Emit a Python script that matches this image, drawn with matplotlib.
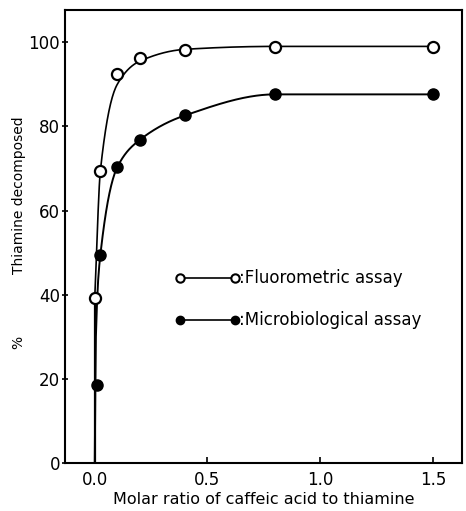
import numpy as np
import matplotlib
matplotlib.use("Agg")
import matplotlib.pyplot as plt

# measured points
ratio_fluor = [0.0, 0.025, 0.1, 0.2, 0.4, 0.8, 1.5]
pct_fluor = [39.3, 69.5, 92.5, 96.3, 98.2, 98.8, 98.8]
ratio_micro = [0.012, 0.025, 0.1, 0.2, 0.4, 0.8, 1.5]
pct_micro = [18.5, 49.5, 70.3, 76.8, 82.6, 87.6, 87.6]

# hand drawn fit lines (knots)
curve_fluor_x = [0.0, 0.025, 0.1, 0.2, 0.4, 0.8, 1.5]
curve_fluor_y = [39.3, 69.5, 90.0, 95.5, 98.3, 99.0, 99.0]
curve_micro_x = [0.0, 0.005, 0.025, 0.1, 0.2, 0.4, 0.8, 1.5]
curve_micro_y = [0.0, 30.0, 49.5, 70.3, 76.8, 82.6, 87.6, 87.6]

xticks = [0.0, 0.5, 1.0, 1.5]
yticks = [0, 20, 40, 60, 80, 100]


def pchip(x, y, xs):
    # monotone cubic hermite, enough for a smooth hand-drawn look
    x = np.asarray(x, float); y = np.asarray(y, float)
    h = np.diff(x); d = np.diff(y) / h
    m = np.zeros_like(y)
    for k in range(1, len(x) - 1):
        if d[k - 1] * d[k] > 0:
            w1 = 2 * h[k] + h[k - 1]; w2 = h[k] + 2 * h[k - 1]
            m[k] = (w1 + w2) / (w1 / d[k - 1] + w2 / d[k])
    m[0] = d[0]; m[-1] = 0.0
    out = np.empty_like(xs)
    idx = np.clip(np.searchsorted(x, xs) - 1, 0, len(x) - 2)
    for j, (xv, i) in enumerate(zip(xs, idx)):
        t = (xv - x[i]) / h[i]
        h00 = 2*t**3 - 3*t**2 + 1; h10 = t**3 - 2*t**2 + t
        h01 = -2*t**3 + 3*t**2; h11 = t**3 - t**2
        out[j] = h00*y[i] + h10*h[i]*m[i] + h01*y[i+1] + h11*h[i]*m[i+1]
    return out


plt.rcParams["font.family"] = ["DejaVu Sans"]
fig = plt.figure(figsize=(4.66, 5.11), dpi=100)
ax = fig.add_axes([0.139, 0.094, 0.852, 0.886])

# fluorometric line: vertical start at 0 then smooth
ax.plot([0.0, 0.0], [0.0, 39.3], color="black", lw=1.6)
xs = np.linspace(0.0, 1.5, 600)
ax.plot(xs, pchip(curve_fluor_x, curve_fluor_y, xs), color="black", lw=1.2)
ax.plot(xs, pchip(curve_micro_x, curve_micro_y, xs), color="black", lw=1.4)

ax.plot(ratio_fluor, pct_fluor, "o", ms=8, mfc="white", mec="black", mew=1.6, zorder=5)
ax.plot(ratio_micro, pct_micro, "o", ms=8, mfc="black", mec="black", zorder=5)

# legend drawn by hand
ax.plot([0.38, 0.62], [44, 44], "-", color="black", lw=1.2)
ax.plot([0.38, 0.62], [44, 44], "o", ms=6, mfc="white", mec="black", mew=1.5)
ax.text(0.64, 44, ":Fluorometric assay", va="center", ha="left", fontsize=12)
ax.plot([0.38, 0.62], [34, 34], "-", color="black", lw=1.2)
ax.plot([0.38, 0.62], [34, 34], "o", ms=6, mfc="black", mec="black")
ax.text(0.64, 34, ":Microbiological assay", va="center", ha="left", fontsize=12)

ax.set_xlim(-0.133, 1.628)
ax.set_ylim(0, 107.6)
ax.set_xticks(xticks)
ax.set_xticklabels(["0.0", "0.5", "1.0", "1.5"], fontsize=12)
ax.set_yticks(yticks)
ax.set_yticklabels([str(v) for v in yticks], fontsize=12)
ax.tick_params(axis="x", direction="in", length=4, width=1.2, pad=6)
ax.tick_params(axis="y", direction="inout", length=5, width=1.2, pad=1)
for s in ax.spines.values():
    s.set_linewidth(1.5)

ax.set_xlabel("Molar ratio of caffeic acid to thiamine", fontsize=11.5, labelpad=2)
fig.text(0.04, 0.618, "Thiamine decomposed", rotation=90, ha="center", va="center", fontsize=10)
fig.text(0.04, 0.329, "%", rotation=90, ha="center", va="center", fontsize=10)

fig.savefig("out.png", dpi=100)
